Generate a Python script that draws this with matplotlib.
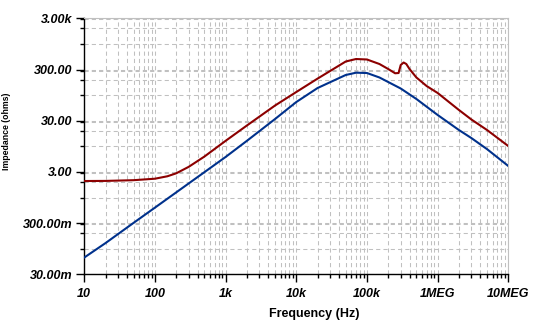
import numpy as np
import matplotlib.pyplot as plt
from matplotlib.ticker import FixedLocator, NullFormatter

# impedance sweep, values in ohms
freq_blue = [10, 20, 50, 100, 200, 500, 1e3, 2e3, 5e3, 1e4, 2e4, 5e4, 7e4, 1e5,
             1.5e5, 3e5, 5e5, 1e6, 2e6, 3e6, 5e6, 1e7]
z_blue = [0.0673, 0.129, 0.321, 0.635, 1.26, 3.12, 6.2, 12.8, 34.1, 73.3, 137.6,
          247, 274, 270, 221, 134.6, 84, 40.9, 20.8, 14.5, 8.8, 4.12]

freq_red = [10, 20, 50, 100, 150, 200, 300, 500, 1e3, 2e3, 5e3, 1e4, 2e4, 5e4, 7e4,
            1e5, 1.5e5, 2e5, 2.5e5, 2.8e5, 3e5, 3.3e5, 3.6e5, 4e5, 5e5, 7e5, 1e6,
            2e6, 3e6, 5e6, 1e7]
z_red = [2.10, 2.11, 2.18, 2.33, 2.6, 2.97, 3.97, 6.3, 12.8, 25.5, 62.6, 115, 210,
         453, 507, 496, 405, 323, 267, 270, 387, 433, 405, 323, 221, 150, 110,
         51.2, 33.4, 20.8, 10.1]

xticks = [10, 100, 1e3, 1e4, 1e5, 1e6, 1e7]
xlabels = ['10', '100', '1k', '10k', '100k', '1MEG', '10MEG']
yticks = [10 ** (k + 0.5) for k in range(-2, 4)]
ylabels = ['30.00m', '300.00m', '3.00', '30.00', '300.00', '3.00k']

fig = plt.figure(figsize=(5.47, 3.34), dpi=100)
ax = fig.add_axes([0.1541, 0.1787, 0.7752, 0.7665])

ax.plot(freq_red, z_red, color='#8c0000', lw=1.5, zorder=3)
ax.plot(freq_blue, z_blue, color='#00318c', lw=1.5, zorder=3)

ax.set_xscale('log')
ax.set_yscale('log')
ax.set_xlim(10, 1e7)
ax.set_ylim(10 ** -1.5, 10 ** 3.5)

ax.xaxis.set_major_locator(FixedLocator(xticks))
ax.xaxis.set_minor_locator(FixedLocator(
    [m * 10 ** e for e in range(1, 7) for m in range(2, 10)]))
ax.yaxis.set_major_locator(FixedLocator(yticks))
ax.yaxis.set_minor_locator(FixedLocator(
    [m * 10 ** e for e in range(-1, 4) for m in (1, 2, 3)]))
ax.xaxis.set_minor_formatter(NullFormatter())
ax.yaxis.set_minor_formatter(NullFormatter())

tfont = dict(family='Liberation Sans', weight='bold', style='italic', size=9)
ax.set_xticklabels(xlabels, **tfont)
ax.set_yticklabels(ylabels, **tfont)

ax.tick_params(which='major', length=5.8, width=1, color='black')
ax.tick_params(which='minor', length=2.9, width=1, color='black')
ax.tick_params(axis='x', which='major', pad=4)
ax.tick_params(axis='y', which='major', pad=2.5)

ax.grid(True, which='both', color='#c0c0c0', lw=0.75, linestyle=(0, (4, 3)))
ax.set_axisbelow(True)

for side in ('top', 'right'):
    ax.spines[side].set_color('#c0c0c0')
for side in ('left', 'bottom'):
    ax.spines[side].set_color('black')
    ax.spines[side].set_linewidth(1)

fig.text(0.575, 0.061, 'Frequency (Hz)', ha='center', va='center',
         family='Liberation Sans', weight='bold', size=9)
fig.text(0.0115, 0.608, 'Impedance (ohms)', ha='center', va='center',
         rotation=90, family='Liberation Sans', weight='bold', size=6.3)

fig.savefig('out.png', dpi=100)
